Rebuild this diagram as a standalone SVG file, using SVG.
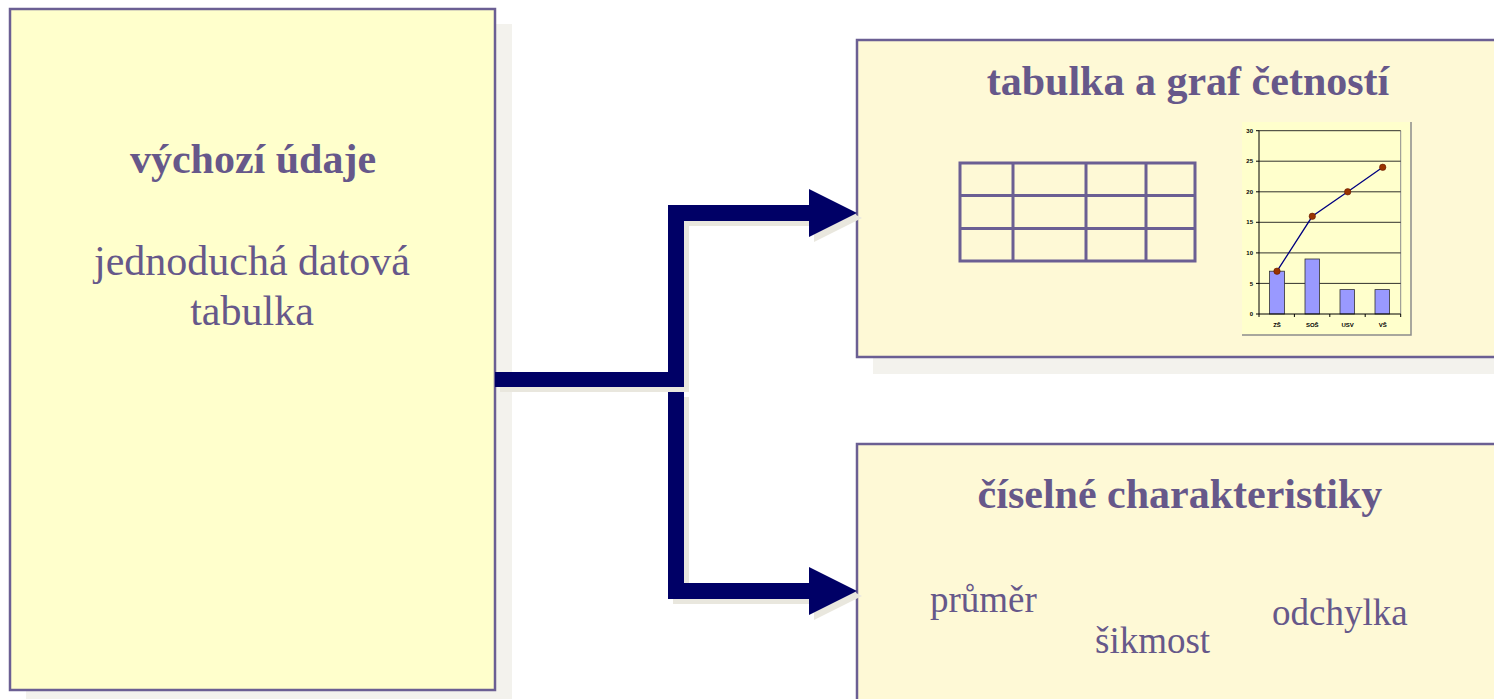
<svg xmlns="http://www.w3.org/2000/svg" width="1494" height="699" viewBox="0 0 1494 699">
  <style>
    .shadow { fill: #F3F2ED; }
    .box { stroke: #6B5F93; stroke-width: 2.5; }
    .src { fill: #FFFFCC; }
    .dst { fill: #FEF9D6; }
    .title { font-family: "Liberation Serif", "Times New Roman", serif; font-weight: bold; font-size: 42px; fill: #66588A; text-anchor: middle; }
    .body { font-family: "Liberation Serif", "Times New Roman", serif; font-size: 42px; fill: #66588A; text-anchor: middle; }
    .item { font-family: "Liberation Serif", "Times New Roman", serif; font-size: 37px; fill: #66588A; }
    .conn { fill: #000066; }
    .connShadow { fill: #E9E7DE; }
    .grid line { stroke: #6B5F93; stroke-width: 3; }
    .axis { stroke: #000; stroke-width: 1; }
    .gl { stroke: #1a1a1a; stroke-width: 0.9; }
    .bar { fill: #9999FF; stroke: #333; stroke-width: 0.8; }
    .pt { fill: #993300; stroke: #661a00; stroke-width: 0.6; }
    .tick { font-family: "Liberation Sans", Arial, sans-serif; font-weight: bold; font-size: 6px; fill: #000; }
  </style>

  <!-- source node -->
  <g id="node-source">
    <rect class="shadow" x="26" y="24" width="486" height="690"/>
    <rect class="box src" x="10" y="9" width="485" height="681"/>
    <text class="title" x="253" y="173">výchozí údaje</text>
    <text class="body" x="252" y="275">jednoduchá datová</text>
    <text class="body" x="252" y="325">tabulka</text>
  </g>

  <!-- frequency table and chart node -->
  <g id="node-frequency">
    <rect class="shadow" x="873" y="57" width="640" height="317"/>
    <rect class="box dst" x="857" y="40" width="650" height="317"/>
    <text class="title" x="1188" y="95">tabulka a graf četností</text>

    <!-- table sketch -->
    <g class="grid">
      <rect x="960" y="163" width="235" height="98" fill="none" stroke="#6B5F93" stroke-width="3"/>
      <line x1="1013" y1="163" x2="1013" y2="261"/>
      <line x1="1086" y1="163" x2="1086" y2="261"/>
      <line x1="1146" y1="163" x2="1146" y2="261"/>
      <line x1="960" y1="195.5" x2="1195" y2="195.5"/>
      <line x1="960" y1="228.5" x2="1195" y2="228.5"/>
    </g>

    <!-- small chart -->
    <g id="chart">
      <rect x="1242" y="122" width="169" height="213" fill="#FFFFCC"/>
      <polyline points="1411,122 1411,335 1242,335" fill="none" stroke="#8C8C8C" stroke-width="1.5"/>
      <line x1="1400.7" y1="130.7" x2="1400.7" y2="314" stroke="#8C8C8C" stroke-width="1"/>
      <line class="gl" x1="1259" y1="130.7" x2="1400.7" y2="130.7"/>
      <line class="gl" x1="1259" y1="161.2" x2="1400.7" y2="161.2"/>
      <line class="gl" x1="1259" y1="191.8" x2="1400.7" y2="191.8"/>
      <line class="gl" x1="1259" y1="222.3" x2="1400.7" y2="222.3"/>
      <line class="gl" x1="1259" y1="252.9" x2="1400.7" y2="252.9"/>
      <line class="gl" x1="1259" y1="283.4" x2="1400.7" y2="283.4"/>

      <rect class="bar" x="1269.5" y="271.2" width="15" height="42.8"/>
      <rect class="bar" x="1305" y="259" width="14.5" height="55"/>
      <rect class="bar" x="1340" y="289.6" width="14.5" height="24.4"/>
      <rect class="bar" x="1375" y="289.6" width="14.5" height="24.4"/>

      <line class="axis" x1="1259" y1="130.7" x2="1259" y2="314"/>
      <line class="axis" x1="1259" y1="314" x2="1400.7" y2="314"/>
      <path class="axis" d="M1256,130.7H1259M1256,161.2H1259M1256,191.8H1259M1256,222.3H1259M1256,252.9H1259M1256,283.4H1259M1256,314H1259M1259,314V317M1294.4,314V317M1329.8,314V317M1365.2,314V317M1400.7,314V317" fill="none"/>

      <polyline points="1277,271.2 1312.3,216.3 1347.7,191.8 1382.7,167.3" fill="none" stroke="#000080" stroke-width="1.3"/>
      <circle class="pt" cx="1277" cy="271.2" r="3.2"/>
      <circle class="pt" cx="1312.3" cy="216.3" r="3.2"/>
      <circle class="pt" cx="1347.7" cy="191.8" r="3.2"/>
      <circle class="pt" cx="1382.7" cy="167.3" r="3.2"/>

      <g class="tick" text-anchor="end">
        <text x="1253" y="132.8">30</text>
        <text x="1253" y="163.3">25</text>
        <text x="1253" y="193.9">20</text>
        <text x="1253" y="224.4">15</text>
        <text x="1253" y="255">10</text>
        <text x="1253" y="285.5">5</text>
        <text x="1253" y="316.1">0</text>
      </g>
      <g class="tick" text-anchor="middle">
        <text x="1277" y="327">ZŠ</text>
        <text x="1312.3" y="327">SOŠ</text>
        <text x="1347.7" y="327">USV</text>
        <text x="1382.7" y="327">VŠ</text>
      </g>
    </g>
  </g>

  <!-- numerical characteristics node -->
  <g id="node-statistics">
    <rect class="shadow" x="873" y="461" width="640" height="260"/>
    <rect class="box dst" x="857" y="444" width="650" height="270"/>
    <text class="title" x="1180" y="508">číselné charakteristiky</text>
    <text class="item" x="930" y="612">průměr</text>
    <text class="item" x="1095" y="653">šikmost</text>
    <text class="item" x="1272" y="625">odchylka</text>
  </g>

  <!-- connectors: block arrows with drop shadows -->
  <g id="connectors">
    <polygon class="connShadow" transform="translate(5,5)" points="668,392 684,392 684,583 809,583 809,567 857,591 809,615 809,599 668,599"/>
    <polygon class="conn" points="668,392 684,392 684,583 809,583 809,567 857,591 809,615 809,599 668,599"/>
    <polygon class="connShadow" transform="translate(5,5)" points="495,372 668,372 668,205 809,205 809,189 857,213 809,237 809,221 684,221 684,387 495,387"/>
    <polygon class="conn" points="495,372 668,372 668,205 809,205 809,189 857,213 809,237 809,221 684,221 684,387 495,387"/>
  </g>
</svg>
